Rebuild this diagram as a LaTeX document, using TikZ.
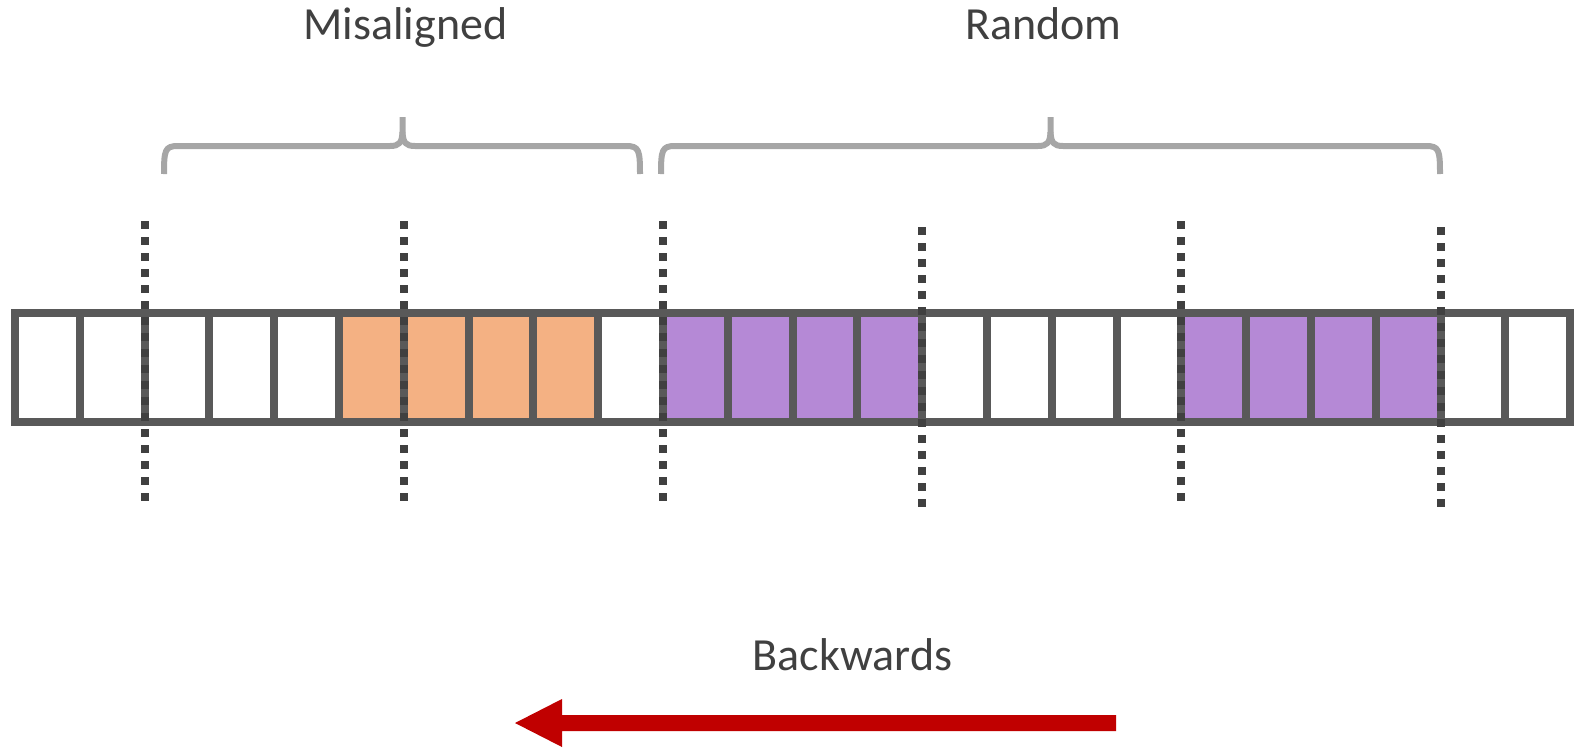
\documentclass[tikz,border=0pt]{standalone}
\usepackage{fontspec}
\setmainfont{Carlito}
\begin{document}
\begin{tikzpicture}[x=1pt,y=-1pt,
  cellbox/.style={draw=cellgray,line width=8pt,minimum width=64.8pt,minimum height=109pt,inner sep=0pt,outer sep=0pt,anchor=center},
  orangecell/.style={cellbox,fill=cellorange},
  purplecell/.style={cellbox,fill=cellpurple},
  dotline/.style={draw=dotgray,line width=8pt,dash pattern=on 8pt off 8pt},
  bracestyle/.style={draw=bracegray,line width=6pt,line join=round},
  label/.style={text=textgray,font=\fontsize{46}{55}\selectfont,inner sep=0pt,anchor=base}]
\definecolor{cellgray}{HTML}{595959}
\definecolor{cellorange}{HTML}{F4B183}
\definecolor{cellpurple}{HTML}{B589D6}
\definecolor{dotgray}{HTML}{404040}
\definecolor{bracegray}{HTML}{A6A6A6}
\definecolor{textgray}{HTML}{404040}
\definecolor{arrowred}{HTML}{C00000}
\useasboundingbox (0,0) rectangle (1577,747);
% cells
\foreach \k in {0,...,23}{
  \pgfmathsetmacro{\cx}{15+64.8*(\k+0.5)}
  \ifnum\k<5 \node[cellbox] (c\k) at (\cx,367.5) {};\fi
  \ifnum\k>4 \ifnum\k<9 \node[orangecell] (c\k) at (\cx,367.5) {};\fi\fi
  \ifnum\k=9 \node[cellbox] (c\k) at (\cx,367.5) {};\fi
  \ifnum\k>9 \ifnum\k<14 \node[purplecell] (c\k) at (\cx,367.5) {};\fi\fi
  \ifnum\k>13 \ifnum\k<18 \node[cellbox] (c\k) at (\cx,367.5) {};\fi\fi
  \ifnum\k>17 \ifnum\k<22 \node[purplecell] (c\k) at (\cx,367.5) {};\fi\fi
  \ifnum\k>21 \node[cellbox] (c\k) at (\cx,367.5) {};\fi
}
% dotted lines
\foreach \x in {144.6,403.8,663,1181.4}{
  \draw[dotline] (\x,221) -- (\x,501);
}
\foreach \x in {922.2,1440.6}{
  \draw[dotline] (\x,227) -- (\x,507);
}
% braces
\draw[bracestyle] (164,174) .. controls (164,150) and (165,146) .. (178,146) -- (390,146)
  .. controls (399,146) and (402,143) .. (402.5,132) -- (402.5,117);
\draw[bracestyle] (640,174) .. controls (640,150) and (639,146) .. (626,146) -- (415,146)
  .. controls (406,146) and (403,143) .. (402.5,132);
\draw[bracestyle] (661,174) .. controls (661,150) and (662,146) .. (675,146) -- (1038,146)
  .. controls (1047,146) and (1050,143) .. (1050.5,132) -- (1050.5,117);
\draw[bracestyle] (1440,174) .. controls (1440,150) and (1439,146) .. (1426,146) -- (1063,146)
  .. controls (1054,146) and (1051,143) .. (1050.5,132);
% labels
\node[label] (mis) at (405.5,39) {Misaligned};
\node[label] (rnd) at (1043.5,39) {Random};
\node[label] (bwd) at (852.5,670) {Backwards};
% arrow
\fill[arrowred] (1116,715) -- (562,715) -- (562,699) -- (515,723) -- (562,747) -- (562,731) -- (1116,731) -- cycle;
\end{tikzpicture}
\end{document}
